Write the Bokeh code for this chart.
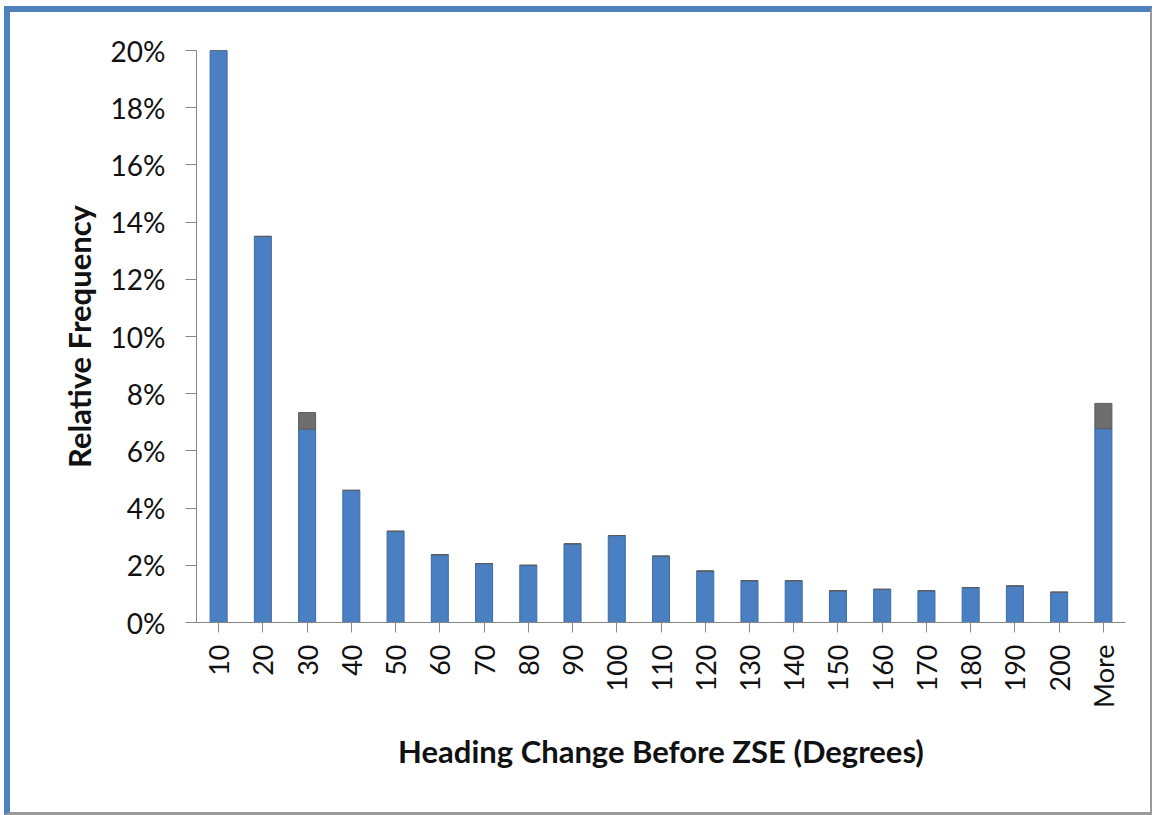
from bokeh.plotting import figure
from bokeh.models import FactorRange, Range1d, NumeralTickFormatter, SingleIntervalTicker, ColumnDataSource
from bokeh.embed import file_html
from bokeh.resources import INLINE

categories = ["10", "20", "30", "40", "50", "60", "70", "80", "90", "100",
              "110", "120", "130", "140", "150", "160", "170", "180", "190", "200", "More"]
blue_part = [0.200, 0.135, 0.0676, 0.0462, 0.0319, 0.0237, 0.0206, 0.0200, 0.0275, 0.0304,
             0.0232, 0.0180, 0.0146, 0.0146, 0.0111, 0.0116, 0.0111, 0.0122, 0.0128, 0.0106, 0.0678]
grey_part = [0.0, 0.0, 0.0058, 0.0, 0.0, 0.0, 0.0, 0.0, 0.0, 0.0,
             0.0, 0.0, 0.0, 0.0, 0.0, 0.0, 0.0, 0.0, 0.0, 0.0, 0.0088]

source = ColumnDataSource(dict(cat=categories, blue=blue_part, grey=grey_part))

p = figure(x_range=FactorRange(*categories, range_padding=0),
           y_range=Range1d(0, 0.2),
           width=1148, height=809, output_backend="svg", toolbar_location=None,
           min_border_left=186, min_border_top=38, min_border_right=33, min_border_bottom=199)

p.styles = {"margin-left": "4px", "margin-top": "6px",
            "border-left": "6px solid #4F81BD", "border-top": "6px solid #4F81BD",
            "border-right": "2px solid #9a9a9a", "border-bottom": "3px solid #9a9a9a"}

p.vbar_stack(["blue", "grey"], x="cat", width=0.385, source=source,
             fill_color=["#4a7fc1", "#6e6e6e"], line_color=["#3d6aa6", "#5c5c5c"], line_width=1)

p.outline_line_color = None
p.xgrid.grid_line_color = None
p.ygrid.grid_line_color = None
p.background_fill_color = "white"
p.border_fill_color = "white"

p.yaxis.ticker = SingleIntervalTicker(interval=0.02)
p.yaxis.formatter = NumeralTickFormatter(format="0%")
p.yaxis.minor_tick_line_color = None
p.yaxis.major_tick_out = 11
p.yaxis.major_tick_in = 0
p.yaxis.major_label_standoff = 20
p.yaxis.axis_label = "Relative Frequency"
p.yaxis.axis_label_standoff = 10

p.xaxis.major_tick_out = 10
p.xaxis.major_tick_in = 0
p.xaxis.major_label_orientation = 1.5708
p.xaxis.major_label_standoff = 12
p.xaxis.axis_label = "Heading Change Before ZSE (Degrees)"
p.xaxis.axis_label_standoff = 21

for ax in (p.xaxis[0], p.yaxis[0]):
    ax.axis_line_color = "#868686"
    ax.major_tick_line_color = "#868686"
    ax.major_label_text_font = "Lato"
    ax.major_label_text_color = "#111111"
    ax.axis_label_text_font = "Lato"
    ax.axis_label_text_font_style = "bold"
    ax.axis_label_text_color = "#111111"
    ax.axis_label_text_font_size = "31px"

p.yaxis.major_label_text_font_size = "28px"
p.xaxis.major_label_text_font_size = "27px"

open("out.html", "w").write(file_html(p, INLINE))
